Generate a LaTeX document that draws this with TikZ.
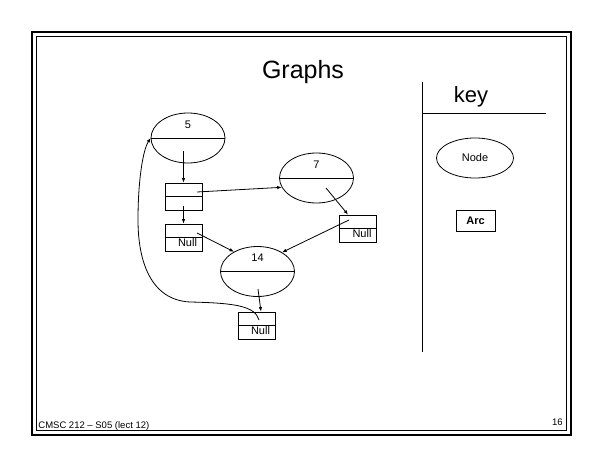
\documentclass[tikz,border=0pt]{standalone}
\usepackage{fontspec}
\setmainfont{Liberation Sans}
\usetikzlibrary{shapes.geometric,arrows.meta}

\tikzset{
	vert/.style={draw,ellipse,minimum width=74pt,minimum height=50pt,inner sep=0pt},
	cell/.style={draw,rectangle,minimum width=37pt,minimum height=27pt,inner sep=0pt},
	num/.style={label={[font=\fontsize{11}{13}\selectfont,inner sep=0pt,label distance=-16pt]90:#1}},
	nul/.style={label={[font=\fontsize{11}{13}\selectfont,inner sep=0pt,anchor=base,xshift=4pt,yshift=4.5pt]south:Null}},
	arr/.style={-{Latex[length=4.5pt,width=3.5pt]}},
}

\begin{document}
\begin{tikzpicture}[x=1pt,y=-1pt,line width=0.8pt]
	\useasboundingbox (0,0) rectangle (605,468);
	% frame
	\draw[line width=1.4pt] (32,32) rectangle (571,435);
	\draw[line width=1.4pt] (36.5,36.5) rectangle (566.5,430.5);
	\node[font=\fontsize{25}{30}\selectfont,anchor=base] (title) at (303,79) {Graphs};

	% graph
	\node[vert,num=5] (v5) at (188,138) {};
	\node[vert,num=7] (v7) at (316.5,178) {};
	\node[vert,num=14] (v14) at (257.5,271.5) {};
	\draw (v5.west) -- (v5.east);
	\draw (v7.west) -- (v7.east);
	\draw (v14.west) -- (v14.east);

	\node[cell] (bA) at (183.5,196.5) {};
	\node[cell,nul] (bB) at (183.5,237.5) {};
	\node[cell,nul] (bC) at (358,228.5) {};
	\node[cell,nul] (bD) at (256.5,325.5) {};
	\foreach \b in {bA,bB,bC,bD}
		\draw (\b.west) -- (\b.east);

	\draw[arr] ([shift={(-4.5,13)}]v5.center) -- (bA.north);
	\draw[arr] ([shift={(13.5,-4.5)}]bA.center) -- (v7.195);
	\draw[arr] ([shift={(0,9.5)}]bA.center) -- (bB.north);
	\draw[arr] ([shift={(13.5,-4.5)}]bB.center) -- (v14.140);
	\draw[arr] ([shift={(9.5,10)}]v7.center) -- ([xshift=-10pt]bC.north);
	\draw[arr] ([shift={(-9,-8.5)}]bC.center) -- (v14.38);
	\draw[arr] ([shift={(0.5,17.5)}]v14.center) -- ([xshift=4.5pt]bD.north);
	\draw[arr] ([shift={(2.5,-5.5)}]bD.center) .. controls (255,306) and (235,303) .. (190,302)
		.. controls (150,300) and (138,260) .. (138,220)
		.. controls (138,180) and (143,150) .. (v5.west);

	% key
	\draw (422,82) -- (422,352);
	\draw (422,113) -- (546,113);
	\node[font=\fontsize{22}{26}\selectfont,anchor=base] (key) at (471,103) {key};
	\node[vert,minimum width=77pt,minimum height=40pt,font=\fontsize{11}{13}\selectfont] (kn) at (475,158) {Node};
	\node[cell,minimum width=39pt,minimum height=21pt,font=\fontsize{11}{13}\selectfont\bfseries] (ka) at (475.5,220.5) {Arc};

	% footer
	\node[font=\fontsize{9.5}{11}\selectfont,anchor=base west,inner sep=0pt] (foot) at (38,428) {CMSC 212 -- S05 (lect 12)};
	\node[font=\fontsize{9.5}{11}\selectfont,anchor=base east,inner sep=0pt] (page) at (563,425) {16};
\end{tikzpicture}
\end{document}
